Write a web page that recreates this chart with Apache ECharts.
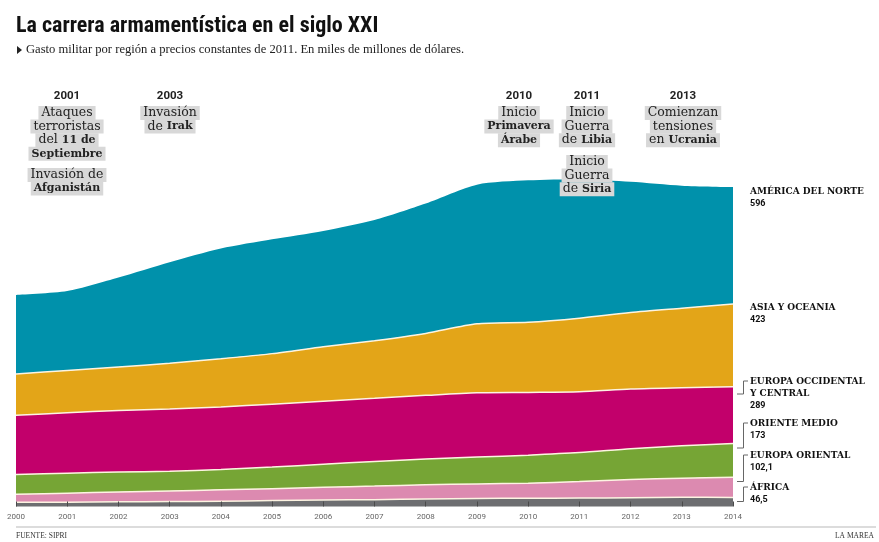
<!DOCTYPE html>
<html><head><meta charset="utf-8">
<script src="https://cdn.jsdelivr.net/npm/echarts@6/dist/echarts.min.js"></script>
<style>html,body{margin:0;padding:0;background:#fff}#c{width:879px;height:542px}</style>
</head><body><div id="c"></div>
<script>
// ---- DATA ----
const years = ['2000','2001','2002','2003','2004','2005','2006','2007','2008','2009','2010','2011','2012','2013','2014'];
const africa = [22, 22, 24, 25, 27, 30, 33, 35, 38, 41, 42, 43, 45, 47, 46.5];
const europaOriental = [40, 46, 50, 54, 58, 61, 65, 69, 73, 74, 77, 84, 93, 97, 102.1];
const orienteMedio = [101, 102, 102, 101, 104, 110, 118, 125, 131, 137, 143, 148, 157, 166, 173];
const europaOccidental = [302, 308, 314, 318, 319, 321, 321, 323, 325, 328, 320, 310, 304, 296, 289];
const asiaOceania = [211, 216, 222, 233, 246, 258, 278, 294, 316, 352, 358, 376, 391, 406, 423];
const americaNorte = [403, 405, 456, 515, 562, 583, 591, 616, 663, 710, 724, 709, 667, 625, 596];
const seriesNames = ['ÁFRICA', 'EUROPA ORIENTAL', 'ORIENTE MEDIO', 'EUROPA OCCIDENTAL Y CENTRAL', 'ASIA Y OCEANIA', 'AMÉRICA DEL NORTE'];
const valueLabels = ['46,5', '102,1', '173', '289', '423', '596'];
const seriesData = [africa, europaOriental, orienteMedio, europaOccidental, asiaOceania, americaNorte];

const titleText = 'La carrera armamentística en el siglo XXI';
const subtitleText = 'Gasto militar por región a precios constantes de 2011. En miles de millones de dólares.';
const sourceText = 'FUENTE: SIPRI';
const creditText = 'LA MAREA';

// events: [regular part, bold part] per line
const eventYears = ['2001', '2003', '2010', '2011', '2013'];
const eventBlocks = [
  [[['Ataques',''],['terroristas',''],['del ','11 de'],['','Septiembre']], [['Invasión de',''],['','Afganistán']]],
  [[['Invasión',''],['de ','Irak']]],
  [[['Inicio',''],['','Primavera'],['','Árabe']]],
  [[['Inicio',''],['Guerra',''],['de ','Libia']], [['Inicio',''],['Guerra',''],['de ','Siria']]],
  [[['Comienzan',''],['tensiones',''],['en ','Ucrania']]]
];

// ---- STYLE / LAYOUT ----
const colors = ['#6d6e71', '#dc8ab0', '#76a535', '#c2006b', '#e3a518', '#0091ab'];
const eventX = [67, 170, 519, 587, 683];
const blockY = [[113, 175], [113], [113], [113, 162], [113]];
const lineGap = 13.6;
const labelLines = [['ÁFRICA'], ['EUROPA ORIENTAL'], ['ORIENTE MEDIO'], ['EUROPA OCCIDENTAL', 'Y CENTRAL'], ['ASIA Y OCEANIA'], ['AMÉRICA DEL NORTE']];
const labelY = [487, 455, 423, 381, 307, 191];
const bracketBottom = [501.5, 481.5, 448, 394, null, null];

const serifF = '"DejaVu Serif", serif';
const serifCondF = '"DejaVu Serif Condensed", "DejaVu Serif", serif';
const sansF = 'Roboto, "Noto Sans", sans-serif';

const chart = echarts.init(document.getElementById('c'), null, {renderer: 'canvas'});

const series = seriesData.map((d, i) => ({
  name: seriesNames[i],
  type: 'line',
  stack: 'total',
  data: d,
  smooth: 0.25,
  showSymbol: false,
  z: 10 - i,
  lineStyle: {color: '#fdf4e2', width: i === 5 ? 0 : 1.5},
  areaStyle: {color: colors[i], opacity: 1},
  emphasis: {disabled: true}
}));

const graphic = [];
// title
graphic.push({type: 'text', x: 16, y: 26, style: {text: titleText, font: 'bold 22px "Liberation Sans Narrow", "Roboto Condensed", Roboto, sans-serif', fill: '#111', textVerticalAlign: 'middle'}});
graphic.push({type: 'polygon', shape: {points: [[17, 46], [17, 54], [22, 50]]}, style: {fill: '#222'}});
graphic.push({type: 'text', x: 26, y: 50, style: {text: subtitleText, font: '12.6px "Liberation Serif", serif', fill: '#222', textVerticalAlign: 'middle'}});

// events
eventYears.forEach((yr, k) => {
  graphic.push({type: 'text', x: eventX[k], y: 96, style: {text: yr, font: 'bold 11.5px ' + sansF, fill: '#222', textAlign: 'center', textVerticalAlign: 'middle'}});
  eventBlocks[k].forEach((block, b) => {
    block.forEach((ln, j) => {
      let txt = '';
      if (ln[0]) txt += '{r|' + ln[0] + '}';
      if (ln[1]) txt += '{b|' + ln[1] + '}';
      graphic.push({type: 'text', x: eventX[k], y: blockY[k][b] + j * lineGap, style: {
        text: txt, textAlign: 'center', textVerticalAlign: 'middle',
        backgroundColor: '#d8d8d8', padding: [1, 3, 1, 3],
        rich: {
          r: {fontFamily: serifF, fontSize: 12.5, fill: '#222', lineHeight: 12},
          b: {fontFamily: serifF, fontSize: 11, fontWeight: 'bold', fill: '#222', lineHeight: 12}
        }
      }});
    });
  });
});

// right labels
labelLines.forEach((lines, i) => {
  lines.forEach((t, j) => {
    graphic.push({type: 'text', x: 750, y: labelY[i] + j * 12.5, style: {text: t, font: 'bold 10px ' + serifCondF, fill: '#111', textVerticalAlign: 'middle'}});
  });
  graphic.push({type: 'text', x: 750, y: labelY[i] + lines.length * 12.5, style: {text: valueLabels[i], font: 'bold 9px ' + sansF, fill: '#111', textVerticalAlign: 'middle'}});
  if (bracketBottom[i] !== null) {
    graphic.push({type: 'polyline', shape: {points: [[748, labelY[i]], [743.5, labelY[i]], [743.5, bracketBottom[i]], [737, bracketBottom[i]]]}, style: {stroke: '#666', lineWidth: 1, fill: null}});
  }
});

// footer
graphic.push({type: 'rect', shape: {x: 16, y: 526, width: 860, height: 2}, style: {fill: '#dcdcdc'}});
graphic.push({type: 'text', x: 16, y: 536, style: {text: sourceText, font: '7.5px "Liberation Serif", serif', fill: '#333', textVerticalAlign: 'middle'}});
graphic.push({type: 'text', x: 874, y: 536, style: {text: creditText, font: '7.5px "Liberation Serif", serif', fill: '#333', textAlign: 'right', textVerticalAlign: 'middle'}});

graphic.forEach(g => { g.z = 100; });

chart.setOption({
  animation: false,
  backgroundColor: '#fff',
  grid: {left: 16, right: 146, top: 173.3, bottom: 35.5, containLabel: false},
  xAxis: {
    type: 'category', data: years, boundaryGap: false,
    axisLine: {show: false},
    axisTick: {show: true, inside: true, length: 5, lineStyle: {color: '#4a4a4a', width: 1}},
    axisLabel: {fontFamily: sansF, fontSize: 8, color: '#666', margin: 6},
    splitLine: {show: false}, z: 20
  },
  yAxis: {type: 'value', min: 0, max: 1700, show: false},
  series: series,
  graphic: graphic
});
</script></body></html>
